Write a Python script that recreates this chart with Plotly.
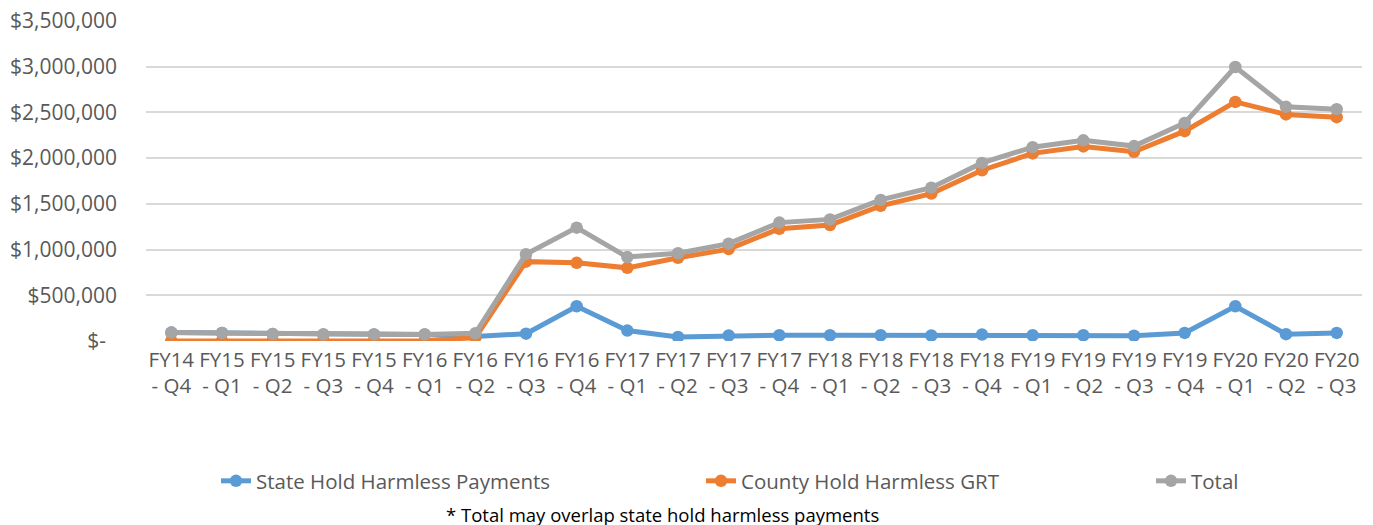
import plotly.graph_objects as go

categories = ["FY14 - Q4", "FY15 - Q1", "FY15 - Q2", "FY15 - Q3", "FY15 - Q4",
              "FY16 - Q1", "FY16 - Q2", "FY16 - Q3", "FY16 - Q4",
              "FY17 - Q1", "FY17 - Q2", "FY17 - Q3", "FY17 - Q4",
              "FY18 - Q1", "FY18 - Q2", "FY18 - Q3", "FY18 - Q4",
              "FY19 - Q1", "FY19 - Q2", "FY19 - Q3", "FY19 - Q4",
              "FY20 - Q1", "FY20 - Q2", "FY20 - Q3"]
tick_labels = [c.replace(" - ", "<br>- ") for c in categories]

state = [92000, 88000, 76000, 72000, 72000, 72000, 50000, 80000, 380000,
         114000, 45000, 60000, 63000, 63000, 63000, 60000, 70000,
         63000, 63000, 58000, 88000, 380000, 75000, 88000]
county = [0, 0, 0, 0, 0, 0, 38000, 868000, 855000,
          800000, 910000, 1005000, 1228000, 1268000, 1478000, 1612000, 1868000,
          2052000, 2128000, 2070000, 2295000, 2615000, 2478000, 2448000]
total = [92000, 88000, 76000, 72000, 72000, 72000, 85000, 950000, 1240000,
         918000, 960000, 1065000, 1295000, 1330000, 1543000, 1677000, 1948000,
         2120000, 2195000, 2132000, 2385000, 2997000, 2561000, 2536000]

y_ticks = [0, 500000, 1000000, 1500000, 2000000, 2500000, 3000000, 3500000]
y_tick_text = ["$-\u00a0\u00a0", "$500,000", "$1,000,000", "$1,500,000",
               "$2,000,000", "$2,500,000", "$3,000,000", "$3,500,000"]

series = [
    ("State Hold Harmless Payments", state, "#5B9BD5", "legend"),
    ("County Hold Harmless GRT", county, "#ED7D31", "legend2"),
    ("Total", total, "#A5A5A5", "legend3"),
]

fig = go.Figure()
for name, vals, color, lg in series:
    fig.add_trace(go.Scatter(
        x=list(range(len(categories))), y=vals, name=name, mode="lines+markers",
        line=dict(color=color, width=5),
        marker=dict(color=color, size=12.5),
        legend=lg, showlegend=True,
    ))

font_color = "#595959"
FONT = "Open Sans"
W, H = 1373, 525
# plot area in page pixels: x 146..1362, y 20.5..341.5
top = 20.5
left = 146
right = W - 1362
bottom = H - 341.5
plot_w = W - left - right
plot_h = H - top - bottom

def cx(x):
    return x / W

def cy(y):
    return 1 - y / H

def px(x):
    return (x - left) / plot_w

def py(y):
    return (H - bottom - y) / plot_h

leg_common = dict(orientation="h", yanchor="middle", xanchor="left",
                  xref="container", yref="container",
                  font=dict(family=FONT, size=20.5, color=font_color),
                  bgcolor="rgba(0,0,0,0)", itemwidth=30)

fig.update_layout(
    width=W, height=H, showlegend=True,
    margin=dict(l=left, r=right, t=top, b=bottom, pad=0, autoexpand=False),
    paper_bgcolor="white", plot_bgcolor="white",
    font=dict(family=FONT, color=font_color),
    legend=dict(x=cx(216), y=cy(481), **leg_common),
    legend2=dict(x=cx(701), y=cy(481), **leg_common),
    legend3=dict(x=cx(1151), y=cy(481), **leg_common),
    xaxis=dict(
        range=[-0.5, len(categories) - 0.5], automargin=False,
        tickmode="array", tickvals=list(range(len(categories))), ticktext=tick_labels,
        tickfont=dict(family=FONT, size=20.5, color=font_color),
        showgrid=False, zeroline=False, showline=False, ticks="", tickangle=0,
        ticklabelstandoff=4,
    ),
    yaxis=dict(
        range=[0, 3500000], automargin=False,
        tickmode="array", tickvals=y_ticks, ticktext=y_tick_text,
        tickfont=dict(family=FONT, size=21, color=font_color),
        showgrid=True, gridcolor="#D9D9D9", gridwidth=1.5,
        zeroline=False, showline=False, ticks="", ticklabelstandoff=28,
    ),
    annotations=[dict(
        text="* Total may overlap state hold harmless payments",
        xref="paper", yref="paper", x=px(662), y=py(516),
        xanchor="center", yanchor="middle", showarrow=False,
        font=dict(family=FONT, size=18.5, color="#000000"),
    )],
)

fig.write_html(
    "out.html",
    config={"displayModeBar": False},
    post_script="document.body.style.margin='0';document.body.style.padding='0';",
)
